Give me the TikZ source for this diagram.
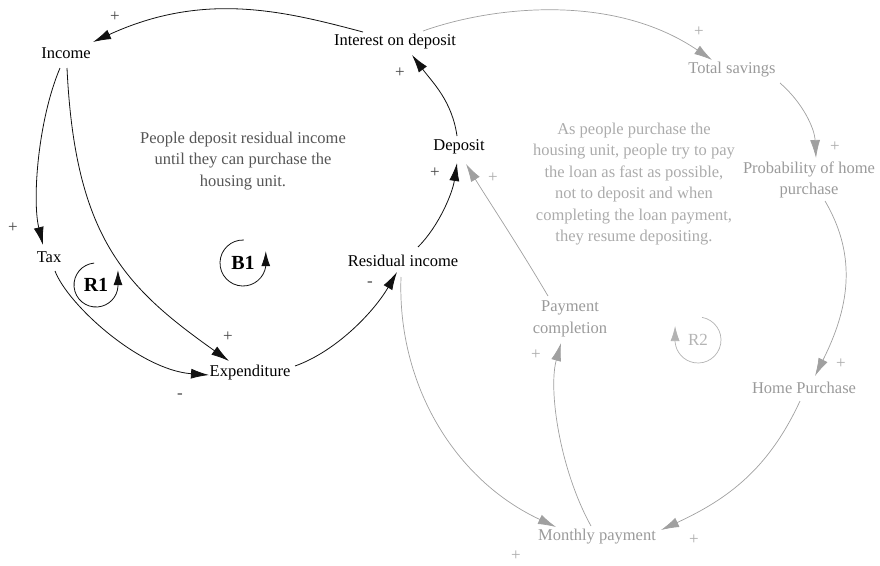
\documentclass[tikz,border=0pt]{standalone}
\usepackage{fontspec}
\setmainfont{Liberation Serif}
\usetikzlibrary{arrows.meta}
\definecolor{gnode}{HTML}{9A9A9A}
\definecolor{gline}{HTML}{A0A0A0}
\definecolor{cmtdark}{HTML}{555555}
\definecolor{cmtlight}{HTML}{ABABAB}
\definecolor{blk}{HTML}{111111}
\definecolor{psign}{HTML}{444444}
\tikzset{
  var/.style={inner sep=2pt, align=center, font=\fontsize{16.5}{21.5}\selectfont, text=black},
  gvar/.style={var, text=gnode},
  bedge/.style={draw=blk, line width=0.8pt, -{Latex[length=18pt,width=10pt]}},
  gedge/.style={draw=gline, line width=0.7pt, -{Latex[length=18pt,width=10pt,fill=gline]}},
  bsign/.style={inner sep=0pt, font=\fontsize{17}{17}\selectfont, text=psign},
  gsign/.style={inner sep=0pt, font=\fontsize{17}{17}\selectfont, text=cmtlight},
  cmt/.style={inner sep=0pt, align=center, font=\fontsize{16.5}{21.5}\selectfont},
  loopb/.style={inner sep=0pt, font=\fontsize{20}{20}\selectfont\bfseries},
  loopline/.style={draw=blk, line width=0.8pt, -{Latex[length=15pt,width=9pt]}},
  gloopline/.style={draw=gline!80, line width=0.7pt, -{Latex[length=15pt,width=9pt]}},
}
\begin{document}
\begin{tikzpicture}[x=1pt,y=1pt]
\useasboundingbox (0,0) rectangle (880,-565);
% nodes
\node[var]  (inc)  at (66,-53)   {Income};
\node[var]  (int)  at (395,-42)  {Interest on deposit};
\node[gvar] (tot)  at (732,-70)  {Total savings};
\node[var]  (dep)  at (459,-147) {Deposit};
\node[gvar] (prob) at (809,-180) {Probability of home\\purchase};
\node[var]  (tax)  at (49,-257)  {Tax};
\node[var]  (res)  at (403,-261) {Residual income};
\node[var]  (exp)  at (250,-373) {Expenditure};
\node[gvar] (pay)  at (570,-319) {Payment\\completion};
\node[gvar] (home) at (804,-388) {Home Purchase};
\node[gvar] (mon)  at (597,-537) {Monthly payment};
% comments
\node[cmt, text=cmtdark]  (c1) at (243,-161) {People deposit residual income\\until they can purchase the\\housing unit.};
\node[cmt, text=cmtlight] (c2) at (634,-184) {As people purchase the\\housing unit, people try to pay\\the loan as fast as possible,\\not to deposit and when\\completing the loan payment,\\they resume depositing.};
% loops
\node[loopb] (r1) at (96,-285) {R1};
\node[loopb] (b1) at (243,-263) {B1};
\node[inner sep=0pt, font=\fontsize{17}{17}\selectfont, text=cmtlight!90] (r2) at (698,-340) {R2};
\draw[loopline] (r1.center) ++(95:22) arc[start angle=95, end angle=357, radius=22] -- ++(0,16);
\draw[loopline] (b1.center) ++(88:23) arc[start angle=88, end angle=352, radius=23] -- ++(0,15);
\draw[gloopline] (r2.center) ++(80:23) arc[start angle=80, end angle=-175, radius=23] -- ++(0,16);
% black edges
\draw[bedge] ([shift={(-32,10)}]int.center) .. controls (284,-11) and (204,9) .. ([shift={(27,11)}]inc.center);
\draw[bedge] ([shift={(-6,-15)}]inc.center) .. controls (38,-120) and (32,-200) .. ([shift={(-6,12)}]tax.center);
\draw[bedge] ([shift={(1,-15)}]inc.center) .. controls (75,-237) and (124.5,-287) .. ([shift={(-21,12)}]exp.center);
\draw[bedge] ([shift={(6,-14)}]tax.center) .. controls (68,-305) and (140,-370) .. ([shift={(-41,-2)}]exp.center);
\draw[bedge] ([shift={(45,7)}]exp.center) .. controls (337,-351) and (374.5,-311) .. ([shift={(-6,-11)}]res.center);
\draw[bedge] ([shift={(15,14)}]res.center) .. controls (439,-226) and (452.5,-193) .. ([shift={(-2,-16)}]dep.center);
\draw[bedge] ([shift={(-2,11)}]dep.center) .. controls (452,-101) and (433,-83) .. ([shift={(17,-13)}]int.center);
% gray edges
\draw[gedge] ([shift={(28,11)}]int.center) .. controls (490,-7) and (612,8) .. ([shift={(-20,10)}]tot.center);
\draw[gedge] ([shift={(48,-13)}]tot.center) .. controls (802.5,-102.5) and (814.5,-128) .. ([shift={(7,22)}]prob.center);
\draw[gedge] ([shift={(16,-21)}]prob.center) .. controls (858.5,-258) and (848,-310) .. ([shift={(11,12)}]home.center);
\draw[gedge] ([shift={(-4,-13)}]home.center) .. controls (768.5,-469) and (728,-499) .. ([shift={(64,7)}]mon.center);
\draw[gedge] ([shift={(-2,-16)}]res.center) .. controls (397,-385) and (455,-480) .. ([shift={(-41,10)}]mon.center);
\draw[gedge] ([shift={(-6,11)}]mon.center) .. controls (560,-470) and (548,-390) .. ([shift={(-9,-24)}]pay.center);
\draw[gedge] ([shift={(-22,23)}]pay.center) .. controls (518,-245) and (488,-200) .. ([shift={(7,-17)}]dep.center);
% polarity signs
\node[bsign] (s1) at (115,-17) {+};
\node[bsign] (s2) at (13,-228) {+};
\node[bsign] (s3) at (228,-337) {+};
\node[bsign] (s4) at (180,-396) {-};
\node[bsign] (s5) at (370,-284) {-};
\node[bsign] (s6) at (435,-173) {+};
\node[bsign] (s7) at (400,-73) {+};
\node[gsign] (s8) at (699,-32) {+};
\node[gsign] (s9) at (835,-147) {+};
\node[gsign] (s10) at (493,-178) {+};
\node[gsign] (s11) at (841,-364) {+};
\node[gsign] (s12) at (536,-355) {+};
\node[gsign] (s13) at (694,-540) {+};
\node[gsign] (s14) at (516,-556) {+};
\end{tikzpicture}
\end{document}
